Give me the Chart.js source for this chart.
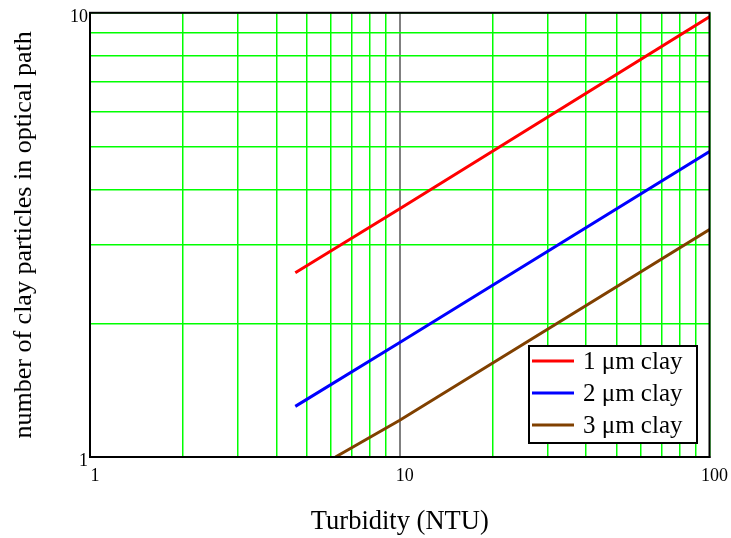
<!DOCTYPE html>
<html>
<head>
<meta charset="utf-8">
<script src="https://cdn.jsdelivr.net/npm/chart.js@4"></script>
<style>
html,body{margin:0;padding:0;background:#fff;}
canvas{display:block;}
</style>
</head>
<body>
<div style="width:731px;height:538px;"><canvas id="c" style="width:731px;height:538px;"></canvas></div>
<script>
// ---- data ----
const seriesLabels = ["1 \u03bcm clay", "2 \u03bcm clay", "3 \u03bcm clay"];
const seriesColors = ["#ff0000", "#0000ff", "#804000"];
const turbidity1 = [4.6, 10, 100];
const particles1 = [2.6, 3.62, 9.8];
const turbidity2 = [4.6, 10, 100];
const particles2 = [1.3, 1.81, 4.87];
const turbidity3 = [6.2, 10, 100];
const particles3 = [1.0, 1.21, 3.25];
const xTickValues = [1,2,3,4,5,6,7,8,9,10,20,30,40,50,60,70,80,90,100];
const xLabelValues = [1, 10, 100];
const yTickValues = [1,2,3,4,5,6,7,8,9,10];
const yLabelValues = [1, 10];

const SERIF = "'Liberation Serif', 'Times New Roman', serif";
const GRID_GREEN = 'rgb(0,255,0)';

function pts(xs, ys){ return xs.map((x,i)=>({x:x, y:ys[i]})); }

const frameAndLegend = {
  id: 'frameAndLegend',
  afterDatasetsDraw(chart){
    const ctx = chart.ctx;
    const a = chart.chartArea;
    ctx.save();
    ctx.strokeStyle = '#000';
    ctx.lineWidth = 2;
    ctx.strokeRect(a.left, a.top, a.right - a.left, a.bottom - a.top);
    // legend box
    const bx = 529, by = 346, bw = 168, bh = 97;
    ctx.fillStyle = '#fff';
    ctx.fillRect(bx, by, bw, bh);
    ctx.lineWidth = 2;
    ctx.strokeStyle = '#000';
    ctx.strokeRect(bx, by, bw, bh);
    const rows = [361, 393, 425];
    chart.data.datasets.forEach((ds, i) => {
      ctx.strokeStyle = ds.borderColor;
      ctx.lineWidth = 3;
      ctx.beginPath();
      ctx.moveTo(532, rows[i]);
      ctx.lineTo(574, rows[i]);
      ctx.stroke();
      ctx.fillStyle = '#000';
      ctx.font = '25px ' + SERIF;
      ctx.textBaseline = 'middle';
      ctx.textAlign = 'left';
      ctx.fillText(ds.label, 583, rows[i] + 1);
    });
    ctx.restore();
  }
};

new Chart(document.getElementById('c'), {
  type: 'line',
  data: {
    datasets: [
      {label: seriesLabels[0], data: pts(turbidity1, particles1), borderColor: seriesColors[0]},
      {label: seriesLabels[1], data: pts(turbidity2, particles2), borderColor: seriesColors[1]},
      {label: seriesLabels[2], data: pts(turbidity3, particles3), borderColor: seriesColors[2]}
    ].map(d => Object.assign(d, {borderWidth: 3, pointRadius: 0, fill: false, tension: 0}))
  },
  options: {
    responsive: true,
    maintainAspectRatio: false,
    animation: false,
    layout: {padding: {left: 0, right: 19, top: 10, bottom: 0}},
    plugins: {legend: {display: false}, tooltip: {enabled: false}},
    scales: {
      x: {
        type: 'logarithmic',
        min: 1, max: 100,
        afterBuildTicks: s => { s.ticks = xTickValues.map(v => ({value: v})); },
        afterFit: s => { s.height = 81; },
        ticks: {
          autoSkip: false, maxRotation: 0, padding: 8, labelOffset: 5,
          color: '#000', font: {family: SERIF, size: 18},
          callback: v => xLabelValues.includes(v) ? String(v) : ''
        },
        grid: {
          drawTicks: false,
          color: c => (c.tick && c.tick.value === 10) ? '#808080' : GRID_GREEN,
          lineWidth: c => (c.tick && c.tick.value === 10) ? 2 : 1.5
        },
        border: {color: '#000', width: 2},
        title: {display: true, text: 'Turbidity (NTU)', color: '#000',
                font: {family: SERIF, size: 26.5}, padding: {top: 0, bottom: 0}}
      },
      y: {
        type: 'logarithmic',
        min: 1, max: 10,
        afterBuildTicks: s => { s.ticks = yTickValues.map(v => ({value: v})); },
        afterFit: s => { s.width = 90; },
        ticks: {
          autoSkip: false, padding: 2, labelOffset: 4,
          color: '#000', font: {family: SERIF, size: 18},
          callback: v => yLabelValues.includes(v) ? String(v) : ''
        },
        grid: {drawTicks: false, color: GRID_GREEN, lineWidth: 1.5},
        border: {color: '#000', width: 2},
        title: {display: true, text: 'number of clay particles in optical path', color: '#000',
                font: {family: SERIF, size: 26}, padding: {top: 9, bottom: 0}}
      }
    }
  },
  plugins: [frameAndLegend]
});
</script>
</body>
</html>
